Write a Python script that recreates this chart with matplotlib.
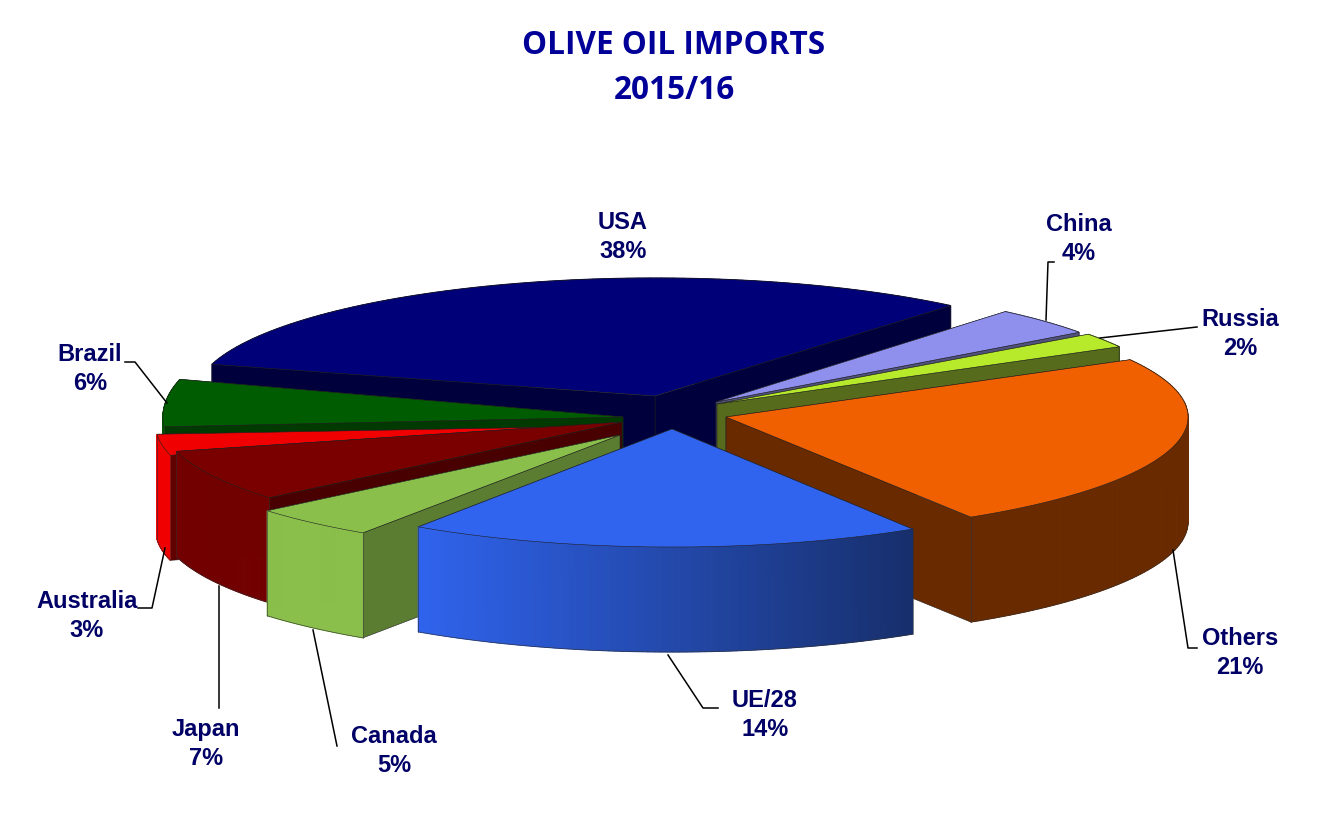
import numpy as np
import matplotlib
matplotlib.use('Agg')
import matplotlib.pyplot as plt
from matplotlib.colors import to_rgb

# values, clockwise from the USA slice
countries = ['USA', 'China', 'Russia', 'Others', 'UE/28', 'Canada', 'Japan', 'Australia', 'Brazil']
shares = [38, 4, 2, 21, 14, 5, 7, 3, 6]

# look of each slice
top_colors = ['#000078', '#8f90ee', '#b8ea2c', '#f06000', '#3064ee', '#8abf4c', '#7a0000', '#f00000', '#005c00']
side_colors = ['#00003c', '#50507c', '#566c1c', '#6a2a00', '#1e3f96', '#5a7d32', '#480000', '#600000', '#003a00']
wall_left = ['#00003c', '#50507c', '#566c1c', '#6a2a00', '#3064ee', '#8abf4c', '#720000', '#f00000', '#005000']
wall_right = ['#00003c', '#50507c', '#566c1c', '#6a2a00', '#172f6c', '#8abf4c', '#720000', '#f00000', '#005000']

# exploded slice tips in pixels, and the pie's size
tip_x = [655, 716, 717, 726, 672, 620, 622, 616, 623]
tip_y = [396, 402, 404, 417, 429, 435, 422, 426, 417]
rad_x = [460, 450, 460, 462, 454, 460, 460, 460, 460]
rad_y = [118, 118, 118, 118, 118, 118, 118, 118, 140]
depth = 105
draw_order = ['USA', 'China', 'Russia', 'Brazil', 'Australia', 'Japan', 'Others', 'Canada', 'UE/28']
start_bearing = -79.2

# perspective squeezes the angles at the back and opens them at the front
persp_a, persp_t0, persp_p0 = 1.25, 20, 25.5
# the front left of the original is a little more open still
bump_at, bump_width, bump_deg = -25, 12, 4.5


def screen_angle(bearing):
    theta = 180 - np.asarray(bearing, dtype=float)
    h = np.radians(theta - persp_t0) / 2
    bump = bump_deg * np.exp(-((theta - bump_at) / bump_width) ** 2)
    return np.radians(persp_p0 - bump) + 2 * np.arctan2(persp_a * np.sin(h), np.cos(h))


def draw_wall(x, y, phi, c0, c1, front):
    # strips so the wall can be shaded from left to right
    for k in range(len(x) - 1):
        if (np.cos(phi[k]) >= 0) != front:
            continue
        t = (x[k] - x.min()) / (x.max() - x.min())
        col = c0 + (c1 - c0) * t
        ax.fill([x[k], x[k + 1], x[k + 1], x[k]],
                [y[k], y[k + 1], y[k + 1] + depth, y[k] + depth],
                fc=col, ec=col, lw=0.8, zorder=1)
    if front:
        keep = np.cos(phi) >= 0
        ax.plot(x[keep], y[keep] + depth, color='#303030', lw=0.4, zorder=1)
        for j in (0, -1):
            if keep[j]:
                ax.plot([x[j], x[j]], [y[j], y[j] + depth], color='#303030', lw=0.4, zorder=1)


fig = plt.figure(figsize=(13.32, 8.3), dpi=100)
ax = fig.add_axes([0, 0, 1, 1])
ax.set_xlim(0, 1332)
ax.set_ylim(830, 0)
ax.axis('off')

edges = start_bearing + np.cumsum([0] + shares) * 3.6

# everything of the pie on one zorder, so the drawing order decides what hides what
for name in draw_order:
    i = countries.index(name)
    b = np.linspace(edges[i], edges[i + 1], 80)
    phi = screen_angle(b)
    x = tip_x[i] + rad_x[i] * np.sin(phi)
    y = tip_y[i] + rad_y[i] * np.cos(phi)
    c0, c1 = np.array(to_rgb(wall_left[i])), np.array(to_rgb(wall_right[i]))

    draw_wall(x, y, phi, c0, c1, False)

    # radial faces, the one further back first
    for j in sorted((0, -1), key=lambda n: y[n]):
        ax.fill([tip_x[i], x[j], x[j], tip_x[i]],
                [tip_y[i], y[j], y[j] + depth, tip_y[i] + depth],
                color=side_colors[i], ec='#202020', lw=0.4, zorder=1)

    draw_wall(x, y, phi, c0, c1, True)

    # top surface
    ax.fill(np.r_[tip_x[i], x], np.r_[tip_y[i], y], color=top_colors[i],
            ec='#202020', lw=0.4, zorder=1)

# leader lines
leaders = [
    ([1054, 1048, 1046], [262, 262, 320]),
    ([1197, 1100], [327, 338]),
    ([1197, 1188, 1173], [648, 648, 550]),
    ([718, 703, 668], [708, 708, 655]),
    ([337, 313], [746, 630]),
    ([219, 219], [708, 586]),
    ([138, 152, 165], [608, 608, 548]),
    ([125, 135, 167], [362, 362, 403]),
]
for lx, ly in leaders:
    ax.plot(lx, ly, color='black', lw=1.1, zorder=5)

# labels
label_x = [623, 1079, 1240, 1240, 765, 394, 206, 87, 90]
label_y = [237, 239, 334, 653, 715, 751, 744, 616, 369]
for i, name in enumerate(countries):
    ax.text(label_x[i], label_y[i], f'{name}\n{shares[i]}%', ha='center', va='center',
            family='Liberation Sans', weight='bold', fontsize=17, color='#000066',
            linespacing=1.32, zorder=6)

ax.text(674, 68, 'OLIVE OIL IMPORTS\n2015/16', ha='center', va='center', family='Open Sans',
        weight='bold', fontsize=22.7, color='#000099', linespacing=1.5, zorder=6)

fig.savefig('out.png', dpi=100, facecolor='white')
